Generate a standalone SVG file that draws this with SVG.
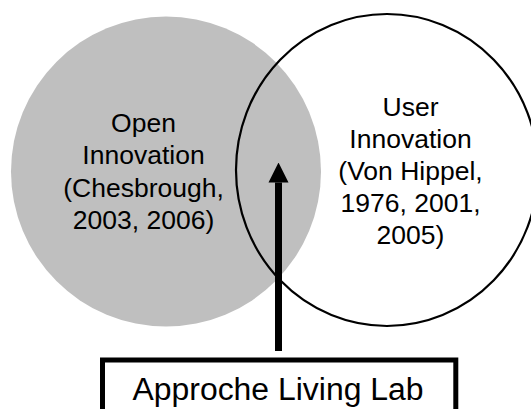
<svg xmlns="http://www.w3.org/2000/svg" width="531" height="409" viewBox="0 0 531 409">
  <style>
    .lbl { font-family: "Liberation Sans", Arial, sans-serif; font-size: 26.5px; fill: #000; text-anchor: middle; }
    .big { font-family: "Liberation Sans", Arial, sans-serif; font-size: 31px; fill: #000; text-anchor: middle; }
  </style>
  <defs>
    <marker id="head" viewBox="0 0 20 20" markerWidth="20" markerHeight="20.5" markerUnits="userSpaceOnUse" refX="0" refY="10" orient="auto">
      <path d="M0,0 L20,10 L0,20 Z" fill="#000"/>
    </marker>
  </defs>
  <rect x="0" y="0" width="531" height="409" fill="#fff"/>
  <g id="open-innovation">
    <circle cx="166" cy="171.5" r="155" fill="#bfbfbf"/>
    <text class="lbl" x="143.5" y="131.7">Open</text>
    <text class="lbl" x="143.5" y="164.3">Innovation</text>
    <text class="lbl" x="143.5" y="196.9">(Chesbrough,</text>
    <text class="lbl" x="143.5" y="229.4">2003, 2006)</text>
  </g>
  <g id="user-innovation">
    <ellipse cx="387" cy="170" rx="151" ry="156" fill="none" stroke="#000" stroke-width="2.2"/>
    <text class="lbl" x="410.5" y="115.5">User</text>
    <text class="lbl" x="410.5" y="148">Innovation</text>
    <text class="lbl" x="410.5" y="180">(Von Hippel,</text>
    <text class="lbl" x="410.5" y="212">1976, 2001,</text>
    <text class="lbl" x="410.5" y="244">2005)</text>
  </g>
  <g id="living-lab">
    <rect x="102.5" y="360" width="353.3" height="60" fill="#fff" stroke="#000" stroke-width="5"/>
    <text class="big" x="278" y="399.5" textLength="291" lengthAdjust="spacingAndGlyphs">Approche Living Lab</text>
  </g>
  <g id="connectors">
    <line x1="278.5" y1="351" x2="278.5" y2="182.5" stroke="#000" stroke-width="7" marker-end="url(#head)"/>
  </g>
</svg>
